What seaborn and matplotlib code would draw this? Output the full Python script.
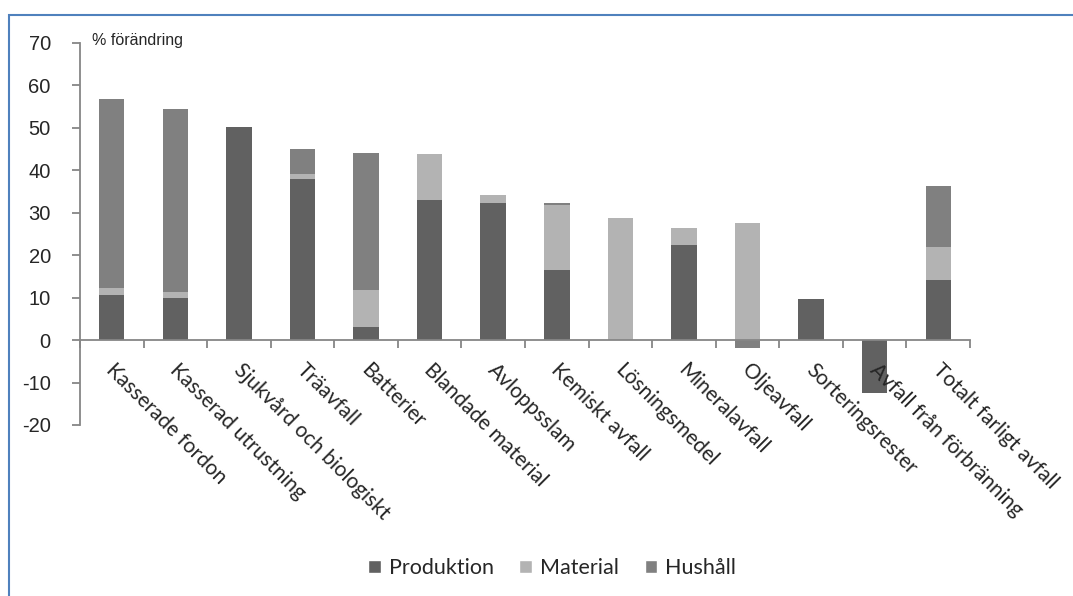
import numpy as np
import pandas as pd
import matplotlib
matplotlib.use("Agg")
import matplotlib.pyplot as plt
import seaborn as sns
from matplotlib.patches import Rectangle, Patch
from matplotlib.transforms import ScaledTranslation

categories = ["Kasserade fordon", "Kasserad utrustning", "Sjukvård och biologiskt",
              "Träavfall", "Batterier", "Blandade material", "Avloppsslam",
              "Kemiskt avfall", "Lösningsmedel", "Mineralavfall", "Oljeavfall",
              "Sorteringsrester", "Avfall från förbränning", "Totalt farligt avfall"]
produktion = [10.6, 10.0, 50.2, 38.0, 3.1, 33.0, 32.2, 16.5, 0.0, 22.4, 0.0, 9.8, -12.5, 14.1]
material = [1.6, 1.4, 0.0, 1.1, 8.7, 10.9, 1.9, 15.3, 28.8, 4.0, 27.7, 0.0, 0.0, 7.8]
hushall = [44.7, 43.1, 0.0, 6.0, 32.4, 0.0, 0.0, 0.4, 0.0, 0.0, -1.8, 0.0, 0.0, 14.3]

series = [("Produktion", produktion, "#616161"),
          ("Material", material, "#b3b3b3"),
          ("Hushåll", hushall, "#808080")]

sns.set_style("white")
plt.rcParams['font.family'] = ['Liberation Sans', 'DejaVu Sans']
plt.rcParams['axes.unicode_minus'] = False

fig = plt.figure(figsize=(10.73, 5.96), dpi=100)
W, H = 1073, 596
ax = fig.add_axes([80 / W, 1 - 425 / H, 890 / W, 382 / H])

pos_bottom = np.zeros(len(categories))
neg_bottom = np.zeros(len(categories))
for name, vals, col in series:
    vals = np.array(vals)
    bottom = np.where(vals >= 0, pos_bottom, neg_bottom)
    df = pd.DataFrame({"cat": categories, "val": vals})
    sns.barplot(data=df, x="cat", y="val", bottom=bottom, color=col, width=0.4,
                saturation=1, ax=ax, order=categories, linewidth=0)
    pos_bottom += np.where(vals > 0, vals, 0)
    neg_bottom += np.where(vals < 0, vals, 0)

ax.set_axisbelow(False)
ax.set_xlim(-0.5, len(categories) - 0.5)
ax.set_ylim(-20, 70)
ax.set_yticks(range(-20, 71, 10))
ax.set_xlabel("")
ax.set_ylabel("")

for s in ["top", "right"]:
    ax.spines[s].set_visible(False)
for s in ["left", "bottom"]:
    ax.spines[s].set_color("#868686")
    ax.spines[s].set_linewidth(1.3)
ax.spines["bottom"].set_position(("data", 0))

ax.tick_params(axis="y", direction="out", length=6, width=1.3, color="#868686",
               labelsize=14.5, pad=15, left=True)
ax.set_xticks(np.arange(-0.5, len(categories), 1.0), minor=True)
ax.tick_params(axis="x", which="minor", direction="out", length=6, width=1.3,
               color="#868686", bottom=True)
ax.tick_params(axis="x", which="major", length=0, pad=14)
ax.set_xticks(range(len(categories)))
ax.set_xticklabels(categories, rotation=-45, ha="left", va="top",
                   rotation_mode="anchor", fontsize=15, family=["Lato", "DejaVu Sans"])
shift = ScaledTranslation(5 / 100, 0, fig.dpi_scale_trans)
for lbl in ax.get_xticklabels():
    lbl.set_transform(lbl.get_transform() + shift)

ax.text(92 / W, 1 - 40 / H, "% förändring", transform=fig.transFigure,
        fontsize=11.5, va="center", ha="left")

handles = [Patch(facecolor=c, label=n) for n, _, c in series]
fig.legend(handles=handles, loc="center", bbox_to_anchor=(552 / W, 1 - 568 / H),
           ncol=3, frameon=False, handlelength=0.6, handleheight=0.6,
           handletextpad=0.35, columnspacing=1.2,
           prop={"family": ["Lato", "DejaVu Sans"], "size": 15.5})

fig.patches.append(Rectangle((9 / W, -0.05), 1.2, 1 - 15 / H + 0.05,
                             transform=fig.transFigure, fill=False,
                             edgecolor="#4f81bd", linewidth=1.5))

fig.savefig("out.png", dpi=100)
